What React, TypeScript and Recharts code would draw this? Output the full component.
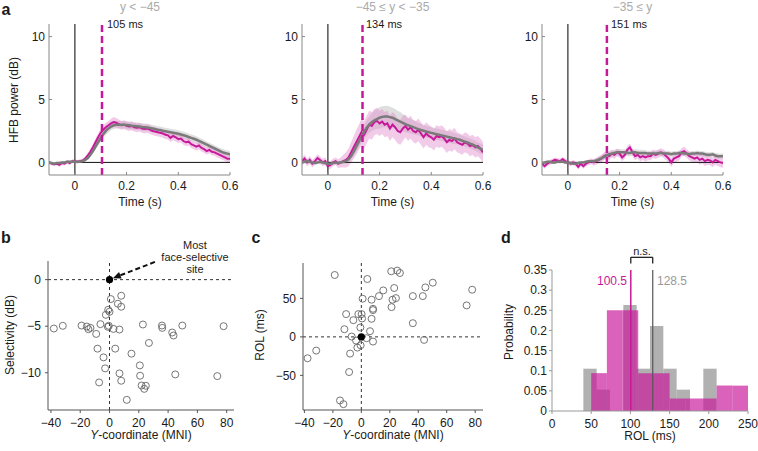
import React from "react";
import {
  ComposedChart,
  ScatterChart,
  Scatter,
  Line,
  Area,
  XAxis,
  YAxis,
  ReferenceLine,
  ReferenceArea,
} from "recharts";

const FONT = '"Liberation Sans", Arial, Helvetica, sans-serif';
const MAGENTA = "#c8189a";
const GRAY = "#7a7a7a";
const AXIS = "#555";

// time axis of the HFB traces (s)
const TIME = [
  -0.1, -0.09, -0.08, -0.07, -0.06, -0.05, -0.04, -0.03, -0.02, -0.01,
  0, 0.01, 0.02, 0.03, 0.04, 0.05, 0.06, 0.07, 0.08, 0.09,
  0.1, 0.11, 0.12, 0.13, 0.14, 0.15, 0.16, 0.17, 0.18, 0.19,
  0.2, 0.21, 0.22, 0.23, 0.24, 0.25, 0.26, 0.27, 0.28, 0.29,
  0.3, 0.31, 0.32, 0.33, 0.34, 0.35, 0.36, 0.37, 0.38, 0.39,
  0.4, 0.41, 0.42, 0.43, 0.44, 0.45, 0.46, 0.47, 0.48, 0.49,
  0.5, 0.51, 0.52, 0.53, 0.54, 0.55, 0.56, 0.57, 0.58, 0.59,
  0.6,
];

// y < -45
const GRAY_A = [
  0, -0.05, -0.1, -0.05, -0.05, 0, 0, 0.05, 0.05, 0.05,
  0.05, 0.05, 0.05, 0.1, 0.2, 0.35, 0.6, 0.9, 1.25, 1.6,
  1.95, 2.25, 2.5, 2.7, 2.85, 2.95, 3, 3, 3, 3,
  2.98, 2.95, 2.92, 2.9, 2.88, 2.85, 2.82, 2.8, 2.77, 2.73,
  2.7, 2.65, 2.6, 2.57, 2.52, 2.48, 2.44, 2.4, 2.36, 2.32,
  2.28, 2.22, 2.16, 2.1, 2.02, 1.95, 1.88, 1.8, 1.72, 1.62,
  1.52, 1.42, 1.32, 1.22, 1.12, 1.02, 0.92, 0.82, 0.75, 0.7,
  0.65,
];
const MAG_A = [
  0, -0.1, -0.15, -0.1, -0.2, -0.05, -0.1, 0.05, -0.05, 0.1,
  0.1, 0.05, 0.1, 0.15, 0.3, 0.55, 0.85, 1.2, 1.6, 2,
  2.35, 2.6, 2.8, 2.95, 3.1, 3.2, 3.15, 3.05, 2.95, 3,
  2.9, 2.85, 2.9, 2.8, 2.75, 2.8, 2.7, 2.65, 2.7, 2.6,
  2.5, 2.45, 2.4, 2.35, 2.3, 2.2, 2.15, 1.95, 2.1, 2,
  1.85, 1.9, 1.7, 1.6, 1.65, 1.45, 1.35, 1.25, 1.35, 1.15,
  1.05, 0.9, 1, 0.85, 0.8, 0.7, 0.6, 0.5, 0.4, 0.3,
  0.3,
];
const SEM_GRAY_A = [
  0.1, 0.1, 0.1, 0.1, 0.1, 0.1, 0.1, 0.1, 0.1, 0.1,
  0.1, 0.1, 0.1, 0.1, 0.12, 0.15, 0.18, 0.2, 0.22, 0.25,
  0.27, 0.28, 0.3, 0.3, 0.3, 0.3, 0.3, 0.3, 0.3, 0.3,
  0.3, 0.3, 0.3, 0.3, 0.3, 0.3, 0.3, 0.3, 0.3, 0.3,
  0.28, 0.28, 0.28, 0.28, 0.28, 0.28, 0.28, 0.28, 0.28, 0.28,
  0.27, 0.27, 0.27, 0.27, 0.27, 0.27, 0.27, 0.27, 0.27, 0.27,
  0.25, 0.25, 0.25, 0.25, 0.25, 0.25, 0.25, 0.25, 0.25, 0.25,
  0.25,
];
const SEM_MAG_A = [
  0.15, 0.15, 0.15, 0.15, 0.15, 0.15, 0.15, 0.15, 0.15, 0.15,
  0.15, 0.15, 0.15, 0.15, 0.18, 0.2, 0.22, 0.25, 0.28, 0.3,
  0.32, 0.34, 0.35, 0.35, 0.38, 0.4, 0.38, 0.36, 0.35, 0.35,
  0.35, 0.35, 0.35, 0.35, 0.35, 0.35, 0.35, 0.35, 0.35, 0.35,
  0.33, 0.33, 0.33, 0.33, 0.33, 0.33, 0.33, 0.33, 0.33, 0.33,
  0.3, 0.3, 0.3, 0.3, 0.3, 0.3, 0.3, 0.3, 0.3, 0.3,
  0.28, 0.28, 0.28, 0.28, 0.28, 0.28, 0.28, 0.28, 0.28, 0.28,
  0.28,
];

// -45 <= y < -35
const GRAY_B = [
  0, 0.05, 0.1, 0.05, 0, -0.05, 0, 0.05, 0, -0.05,
  -0.1, -0.1, -0.05, 0, -0.05, 0, 0.05, 0.1, 0.25, 0.5,
  0.85, 1.25, 1.65, 2.05, 2.45, 2.75, 3, 3.2, 3.35, 3.45,
  3.55, 3.62, 3.65, 3.65, 3.6, 3.55, 3.45, 3.35, 3.25, 3.15,
  3.05, 2.95, 2.88, 2.8, 2.72, 2.65, 2.58, 2.52, 2.45, 2.4,
  2.35, 2.3, 2.25, 2.2, 2.15, 2.1, 2.05, 2, 1.95, 1.9,
  1.85, 1.8, 1.72, 1.65, 1.58, 1.5, 1.42, 1.32, 1.2, 1.1,
  1,
];
const MAG_B = [
  0.1, 0.3, 0, 0.2, -0.1, 0.1, 0.35, 0.2, 0, 0.1,
  -0.3, -0.2, 0, 0.1, -0.1, 0, 0.1, 0.2, 0.4, 0.8,
  1.2, 1.6, 2, 2.4, 2.2, 2.6, 3, 2.9, 3.2, 3.3,
  3.1, 3.25, 3, 3.1, 2.7, 3, 2.8, 2.5, 2.4, 2.7,
  2.9, 2.6, 2.8, 2.5, 2.4, 2.6, 2.3, 2, 2.3, 2.1,
  2, 1.8, 2.1, 2, 2.1, 1.9, 1.6, 1.8, 1.7, 1.9,
  1.6, 1.5, 1.4, 1.6, 1.5, 1.3, 1.4, 1.2, 1.3, 1.1,
  0.8,
];
const SEM_GRAY_B = [
  0.15, 0.15, 0.15, 0.15, 0.15, 0.15, 0.15, 0.15, 0.15, 0.15,
  0.15, 0.15, 0.15, 0.15, 0.15, 0.15, 0.18, 0.2, 0.25, 0.3,
  0.35, 0.4, 0.45, 0.5, 0.55, 0.6, 0.65, 0.7, 0.75, 0.8,
  0.85, 0.85, 0.85, 0.85, 0.85, 0.8, 0.8, 0.75, 0.75, 0.7,
  0.65, 0.6, 0.6, 0.55, 0.55, 0.5, 0.5, 0.5, 0.45, 0.45,
  0.45, 0.45, 0.45, 0.45, 0.45, 0.45, 0.45, 0.45, 0.45, 0.45,
  0.4, 0.4, 0.4, 0.4, 0.4, 0.4, 0.4, 0.4, 0.4, 0.4,
  0.4,
];
const SEM_MAG_B = [
  0.3, 0.3, 0.3, 0.3, 0.3, 0.3, 0.3, 0.3, 0.3, 0.3,
  0.3, 0.3, 0.3, 0.3, 0.35, 0.4, 0.5, 0.6, 0.7, 0.8,
  0.9, 1, 1, 1.05, 1.1, 1.1, 1.1, 1.1, 1.05, 1.05,
  1, 1, 1, 1, 1, 1, 1, 1, 1, 1,
  0.9, 0.9, 0.9, 0.9, 0.9, 0.9, 0.9, 0.9, 0.9, 0.9,
  0.85, 0.85, 0.85, 0.85, 0.85, 0.85, 0.85, 0.85, 0.85, 0.85,
  0.8, 0.8, 0.8, 0.8, 0.8, 0.8, 0.8, 0.8, 0.8, 0.8,
  0.8,
];

// -35 <= y
const GRAY_C = [
  -0.05, 0, 0.05, 0.05, 0, 0, 0.05, 0.05, 0.05, 0,
  0, -0.05, -0.1, -0.1, -0.05, 0, 0, 0.05, 0.1, 0.1,
  0.1, 0.15, 0.25, 0.35, 0.45, 0.55, 0.65, 0.7, 0.75, 0.8,
  0.8, 0.8, 0.8, 0.75, 0.75, 0.8, 0.8, 0.75, 0.75, 0.75,
  0.75, 0.7, 0.7, 0.7, 0.7, 0.75, 0.75, 0.7, 0.7, 0.7,
  0.65, 0.7, 0.7, 0.75, 0.75, 0.7, 0.7, 0.65, 0.7, 0.7,
  0.75, 0.7, 0.7, 0.65, 0.6, 0.6, 0.65, 0.55, 0.5, 0.5,
  0.5,
];
const MAG_C = [
  -0.1, -0.3, -0.1, 0, 0.1, 0.2, 0.15, 0.1, 0.25, 0.1,
  0, -0.1, 0, -0.1, -0.35, -0.1, -0.3, -0.1, 0, 0.1,
  0, 0.1, 0.2, 0.3, 0.5, 0.6, 0.5, 0.7, 0.6, 0.8,
  0.7, 0.4, 0.6, 1, 1.2, 0.8, 0.5, 0.6, 0.4, 0.5,
  0.4, 0.5, 0.5, 0.7, 0.6, 0.7, 0.8, 0.7, 0.5, 0.3,
  0, 0.3, 0.4, 0.5, 0.8, 0.9, 0.7, 0.5, 0.4, 0.3,
  0.4, 0.2, 0.3, 0.1, 0.2, 0.15, 0, 0.2, 0.1, 0,
  -0.05,
];
const SEM_GRAY_C = [
  0.1, 0.1, 0.1, 0.1, 0.1, 0.1, 0.1, 0.1, 0.1, 0.1,
  0.1, 0.1, 0.1, 0.1, 0.1, 0.1, 0.1, 0.1, 0.12, 0.14,
  0.16, 0.18, 0.2, 0.22, 0.24, 0.25, 0.25, 0.25, 0.25, 0.25,
  0.25, 0.25, 0.25, 0.25, 0.25, 0.25, 0.25, 0.25, 0.25, 0.25,
  0.22, 0.22, 0.22, 0.22, 0.22, 0.22, 0.22, 0.22, 0.22, 0.22,
  0.2, 0.2, 0.2, 0.2, 0.2, 0.2, 0.2, 0.2, 0.2, 0.2,
  0.2, 0.2, 0.2, 0.2, 0.2, 0.2, 0.2, 0.2, 0.2, 0.2,
  0.2,
];
const SEM_MAG_C = [
  0.2, 0.2, 0.2, 0.2, 0.2, 0.2, 0.2, 0.2, 0.2, 0.2,
  0.2, 0.2, 0.2, 0.2, 0.2, 0.2, 0.2, 0.2, 0.22, 0.24,
  0.26, 0.28, 0.3, 0.3, 0.3, 0.3, 0.3, 0.3, 0.3, 0.3,
  0.3, 0.3, 0.3, 0.3, 0.3, 0.3, 0.3, 0.3, 0.3, 0.3,
  0.32, 0.32, 0.32, 0.32, 0.32, 0.32, 0.32, 0.32, 0.32, 0.32,
  0.35, 0.35, 0.35, 0.35, 0.35, 0.35, 0.35, 0.35, 0.35, 0.35,
  0.38, 0.38, 0.38, 0.38, 0.38, 0.38, 0.38, 0.38, 0.38, 0.38,
  0.38,
];

// panel b: Y-coordinate (MNI) vs selectivity (dB)
const SEL_Y = [
  -38, -31.9, -19.1, -15.5, -14.4, -13, -9.1, -6.2, -8.2, -7.1, -4.1, -3, -2.5,
  -0.9, 0, -1.1, -0.5, 0.9, 2.7, 3.9, 5.7, 8, 8, 6.8, 6.8, 8, 11.8, 15,
  20.7, 20.9, 21.9, 23.7, 24.8, 22.8, 26.9, 35.8, 36, 42.8, 43.7, 49.7, 44.9,
  73.6, 77.9,
];
const SELECTIVITY = [
  -5.25, -4.96, -4.93, -5.04, -5.32, -5.18, -5.83, -4.78, -7.41, -11.04, -8.35,
  -9.53, -3.78, -3.24, -3.45, -5.07, -4.96, -2.09, -5.29, -7.41, -2.59, -1.73,
  -2.91, -5.36, -10.07, -10.86, -12.91, -7.95, -9.21, -10.32, -11.37, -11.73,
  -11.4, -4.82, -6.8, -4.93, -5.18, -5.68, -6.0, -4.93, -10.18, -10.36, -5.0,
];

// panel c: Y-coordinate (MNI) vs ROL (ms)
const ROL_Y = [
  -37.8, -31.7, -18.7, -15, -12.6, -10.7, -11.9, -8.6, -7.9, -6.8, -5.6, -3.7,
  -2.8, -2.1, -0.7, -0.5, 0.2, 0.5, 0.9, 3.7, 4.2, 6.1, 7.2, 7.2, 8.2, 8.2,
  8.2, 12.4, 15.4, 21, 21.2, 21.9, 23.1, 24.3, 25.2, 27.1, 36.2, 36.2, 43.2,
  44.1, 45, 50.2, 74, 77.9,
];
const ROL = [
  -27.8, -17.8, 80.4, -82.6, -87.4, 29.6, 10, -45.7, -21.7, 0.4, 21.7, -4.8,
  -13.9, 29.6, 12.2, -10.9, 29.6, 23.9, 49.6, -1.7, 75.2, 7.4, 23.5, 48.3,
  36.5, 34.8, -6.1, 53, 60.4, 85.2, 38.7, 48.3, 63.5, 50.4, 86.1, 83, 53, 17.8,
  53, -3.9, 64.3, 70.4, 40.9, 61.3,
];

// most face-selective site (reference)
const BEST_Y = [0];
const BEST_SEL = [0];
const BEST_ROL = [0];

// panel d: ROL histograms
const GRAY_EDGES = [40, 57, 74, 91, 108, 125, 142, 159, 176, 193, 210];
const GRAY_PROB = [0.105, 0.053, 0, 0.263, 0.105, 0.211, 0.105, 0.053, 0, 0.105];
const MAG_EDGES = [50, 70, 90, 110, 130, 150, 170, 190, 210, 230, 250];
const MAG_PROB = [0.094, 0.25, 0.25, 0.094, 0.094, 0.031, 0.031, 0.031, 0.063, 0.063];
const MAG_MEDIAN = 100.5;
const GRAY_MEDIAN = 128.5;

const ONSETS = [0.105, 0.134, 0.151];

const buildRows = (g: number[], m: number[], gs: number[], ms: number[]) =>
  TIME.map((t, i) => ({
    t,
    g: g[i],
    m: m[i],
    gb: [g[i] - gs[i], g[i] + gs[i]],
    mb: [m[i] - ms[i], m[i] + ms[i]],
  }));

const minus = (v: number) => String(v).replace("-", "\u2212");
const tickStyle = { fill: "#1a1a1a", fontSize: 12 };

function Note({
  x,
  y,
  children,
  anchor = "middle",
  rotate = false,
  style = {},
}: {
  x: number;
  y: number;
  children: React.ReactNode;
  anchor?: "start" | "middle" | "end";
  rotate?: boolean;
  style?: React.CSSProperties;
}) {
  const tx = anchor === "start" ? "0" : anchor === "end" ? "-100%" : "-50%";
  return (
    <div
      style={{
        position: "absolute",
        left: x,
        top: y,
        transform: `translate(${tx}, -50%)${rotate ? " rotate(-90deg)" : ""}`,
        whiteSpace: "nowrap",
        lineHeight: 1.15,
        fontSize: 12,
        color: "#1a1a1a",
        ...style,
      }}
    >
      {children}
    </div>
  );
}

function TimePanel({ left, rows, onset }: { left: number; rows: any[]; onset: number }) {
  return (
    <div style={{ position: "absolute", left, top: 0 }}>
      <ComposedChart
        width={240}
        height={215}
        data={rows}
        margin={{ top: 24, right: 10, bottom: 20, left: 19 }}
      >
        <XAxis
          type="number"
          dataKey="t"
          domain={[-0.1, 0.6]}
          ticks={[0, 0.2, 0.4, 0.6]}
          allowDataOverflow
          height={20}
          tickSize={-3}
          tickMargin={9}
          stroke="#888"
          tick={tickStyle}
        />
        <YAxis
          type="number"
          domain={[-1, 11]}
          ticks={[0, 5, 10]}
          allowDataOverflow
          width={30}
          tickSize={-3}
          tickMargin={7}
          stroke="#888"
          tick={tickStyle}
        />
        <Area dataKey="gb" fill="#c4c4c4" fillOpacity={0.55} stroke="none" isAnimationActive={false} />
        <Area dataKey="mb" fill="#e08ccc" fillOpacity={0.45} stroke="none" isAnimationActive={false} />
        <ReferenceLine x={0} stroke="#555" strokeWidth={1.5} />
        <ReferenceLine segment={[{ x: 0, y: 0 }, { x: 0.6, y: 0 }]} stroke="#111" strokeWidth={1} />
        <Line dataKey="m" stroke={MAGENTA} strokeWidth={2} dot={false} isAnimationActive={false} />
        <Line dataKey="g" stroke={GRAY} strokeWidth={2.5} dot={false} isAnimationActive={false} />
        <ReferenceLine x={onset} stroke={MAGENTA} strokeWidth={2.5} strokeDasharray="7 4" />
      </ComposedChart>
    </div>
  );
}

const ring = (p: any) => (
  <circle cx={p.cx} cy={p.cy} r={3.5} fill="none" stroke="#666" strokeWidth={0.9} />
);
const solid = (p: any) => <circle cx={p.cx} cy={p.cy} r={3.6} fill="#000" />;

const arrowShape = (p: any) => {
  const { x1, y1, x2, y2 } = p;
  const a = Math.atan2(y2 - y1, x2 - x1);
  const L = 8;
  const W = 3.5;
  const bx = x2 - L * Math.cos(a);
  const by = y2 - L * Math.sin(a);
  const nx = -Math.sin(a) * W;
  const ny = Math.cos(a) * W;
  return (
    <g>
      <line x1={x1} y1={y1} x2={bx} y2={by} stroke="#111" strokeWidth={2} strokeDasharray="5 3" />
      <polygon points={`${x2},${y2} ${bx + nx},${by + ny} ${bx - nx},${by - ny}`} fill="#111" />
    </g>
  );
};

function ScatterPanel({
  left,
  xs,
  ys,
  bestY,
  domainX,
  domainY,
  ticksY,
  margin,
  arrow,
}: {
  left: number;
  xs: number[];
  ys: number[];
  bestY: number[];
  domainX: [number, number];
  domainY: [number, number];
  ticksY: number[];
  margin: { top: number; right: number; bottom: number; left: number };
  arrow?: boolean;
}) {
  const pts = xs.map((x, i) => ({ x, y: ys[i] }));
  const best = BEST_Y.map((x, i) => ({ x, y: bestY[i] }));
  return (
    <div style={{ position: "absolute", left, top: 240 }}>
      <ScatterChart width={245} height={210} margin={margin}>
        <XAxis
          type="number"
          dataKey="x"
          domain={domainX}
          ticks={[-40, -20, 0, 20, 40, 60, 80]}
          allowDataOverflow
          height={22}
          tickSize={3}
          tickMargin={5}
          stroke={AXIS}
          tick={tickStyle}
          tickFormatter={minus}
        />
        <YAxis
          type="number"
          dataKey="y"
          domain={domainY}
          ticks={ticksY}
          allowDataOverflow
          width={30}
          tickSize={3}
          tickMargin={4}
          stroke={AXIS}
          tick={tickStyle}
          tickFormatter={minus}
        />
        <ReferenceLine y={0} stroke="#333" strokeDasharray="3 3" />
        <ReferenceLine x={0} stroke="#333" strokeDasharray="3 3" />
        <Scatter data={pts} shape={ring} isAnimationActive={false} />
        <Scatter data={best} shape={solid} isAnimationActive={false} />
        {arrow && (
          <ReferenceLine
            segment={[{ x: 31, y: 1.9 }, { x: 2.3, y: 0.15 }]}
            ifOverflow="visible"
            shape={arrowShape}
          />
        )}
      </ScatterChart>
    </div>
  );
}

function HistPanel() {
  const rows = GRAY_PROB.map((p, i) => ({ x: GRAY_EDGES[i], p }));
  return (
    <div style={{ position: "absolute", left: 500, top: 240 }}>
      <ComposedChart width={258} height={210} data={rows} margin={{ top: 30, right: 10, bottom: 17, left: 18 }}>
        <XAxis
          type="number"
          dataKey="x"
          domain={[0, 250]}
          ticks={[0, 50, 100, 150, 200, 250]}
          allowDataOverflow
          height={22}
          tickSize={3}
          tickMargin={5}
          stroke="#999"
          tick={tickStyle}
        />
        <YAxis
          type="number"
          domain={[0, 0.35]}
          ticks={[0, 0.05, 0.1, 0.15, 0.2, 0.25, 0.3, 0.35]}
          allowDataOverflow
          width={34}
          tickSize={3}
          tickMargin={2}
          stroke="#999"
          tick={tickStyle}
        />
        {GRAY_PROB.map((p, i) =>
          p > 0 ? (
            <ReferenceArea
              key={`g${i}`}
              x1={GRAY_EDGES[i]}
              x2={GRAY_EDGES[i + 1]}
              y1={0}
              y2={p}
              fill="#8c8c8c"
              fillOpacity={0.68}
              stroke="none"
            />
          ) : null
        )}
        {MAG_PROB.map((p, i) => (
          <ReferenceArea
            key={`m${i}`}
            x1={MAG_EDGES[i]}
            x2={MAG_EDGES[i + 1]}
            y1={0}
            y2={p}
            fill={MAGENTA}
            fillOpacity={0.68}
            stroke="none"
          />
        ))}
        <ReferenceLine segment={[{ x: MAG_MEDIAN, y: 0 }, { x: MAG_MEDIAN, y: 0.35 }]} stroke={MAGENTA} strokeWidth={1.5} />
        <ReferenceLine segment={[{ x: GRAY_MEDIAN, y: 0 }, { x: GRAY_MEDIAN, y: 0.35 }]} stroke="#555" strokeWidth={1.2} />
        <ReferenceLine
          segment={[{ x: MAG_MEDIAN, y: 0.3815 }, { x: GRAY_MEDIAN, y: 0.3815 }]}
          ifOverflow="visible"
          stroke="#111"
          strokeWidth={1.2}
        />
        <ReferenceLine
          segment={[{ x: MAG_MEDIAN, y: 0.3815 }, { x: MAG_MEDIAN, y: 0.366 }]}
          ifOverflow="visible"
          stroke="#111"
          strokeWidth={1.2}
        />
        <ReferenceLine
          segment={[{ x: GRAY_MEDIAN, y: 0.3815 }, { x: GRAY_MEDIAN, y: 0.366 }]}
          ifOverflow="visible"
          stroke="#111"
          strokeWidth={1.2}
        />
      </ComposedChart>
    </div>
  );
}

export default function App() {
  const panels = [
    { left: 0, rows: buildRows(GRAY_A, MAG_A, SEM_GRAY_A, SEM_MAG_A), title: "y < \u221245", cx: 140 },
    { left: 253, rows: buildRows(GRAY_B, MAG_B, SEM_GRAY_B, SEM_MAG_B), title: "\u221245 \u2264 y < \u221235", cx: 392.5 },
    { left: 493, rows: buildRows(GRAY_C, MAG_C, SEM_GRAY_C, SEM_MAG_C), title: "\u221235 \u2264 y", cx: 632.5 },
  ];
  const onsetX = [107, 366, 611];
  const letter = { fontWeight: 700, fontSize: 16 };
  return (
    <div
      style={{
        position: "absolute",
        left: 0,
        top: 0,
        width: 758,
        height: 451,
        background: "#fff",
        fontFamily: FONT,
        overflow: "hidden",
      }}
    >
      {panels.map((p, i) => (
        <React.Fragment key={i}>
          <TimePanel left={p.left} rows={p.rows} onset={ONSETS[i]} />
          <Note x={p.cx} y={8} style={{ color: "#aaa" }}>{p.title}</Note>
          <Note x={onsetX[i]} y={24} anchor="start" style={{ fontSize: 11 }}>
            {Math.round(ONSETS[i] * 1000)} ms
          </Note>
          <Note x={p.cx} y={203}>Time (s)</Note>
        </React.Fragment>
      ))}
      <Note x={6} y={10} style={letter}>a</Note>
      <Note x={15} y={100} rotate>HFB power (dB)</Note>

      <ScatterPanel
        left={0}
        xs={SEL_Y}
        ys={SELECTIVITY}
        bestY={BEST_SEL}
        domainX={[-42, 85]}
        domainY={[-14, 2]}
        ticksY={[-10, -5, 0]}
        margin={{ top: 21, right: 11, bottom: 18, left: 18 }}
        arrow
      />
      <ScatterPanel
        left={250}
        xs={ROL_Y}
        ys={ROL}
        bestY={BEST_ROL}
        domainX={[-41, 85.5]}
        domainY={[-95, 96]}
        ticksY={[-50, 0, 50]}
        margin={{ top: 23, right: 12, bottom: 18, left: 23 }}
      />
      <HistPanel />

      <Note x={6} y={238} style={letter}>b</Note>
      <Note x={256} y={238} style={letter}>c</Note>
      <Note x={506} y={238} style={letter}>d</Note>

      <div
        style={{
          position: "absolute",
          left: 195,
          top: 257,
          transform: "translate(-50%, -50%)",
          textAlign: "center",
          fontSize: 11,
          lineHeight: "12px",
          color: "#1a1a1a",
        }}
      >
        Most
        <br />
        face-selective
        <br />
        site
      </div>

      <Note x={11} y={335} rotate>Selectivity (dB)</Note>
      <Note x={141} y={436}><i>Y</i>-coordinate (MNI)</Note>
      <Note x={261} y={335} rotate>ROL (ms)</Note>
      <Note x={393} y={436}><i>Y</i>-coordinate (MNI)</Note>

      <Note x={510} y={332} rotate>Probability</Note>
      <Note x={650} y={437}>ROL (ms)</Note>
      <Note x={642} y={251} style={{ fontSize: 11 }}>n.s.</Note>
      <Note x={627} y={282} anchor="end" style={{ color: MAGENTA }}>{MAG_MEDIAN}</Note>
      <Note x={657} y={282} anchor="start" style={{ color: "#999" }}>{GRAY_MEDIAN}</Note>
    </div>
  );
}
